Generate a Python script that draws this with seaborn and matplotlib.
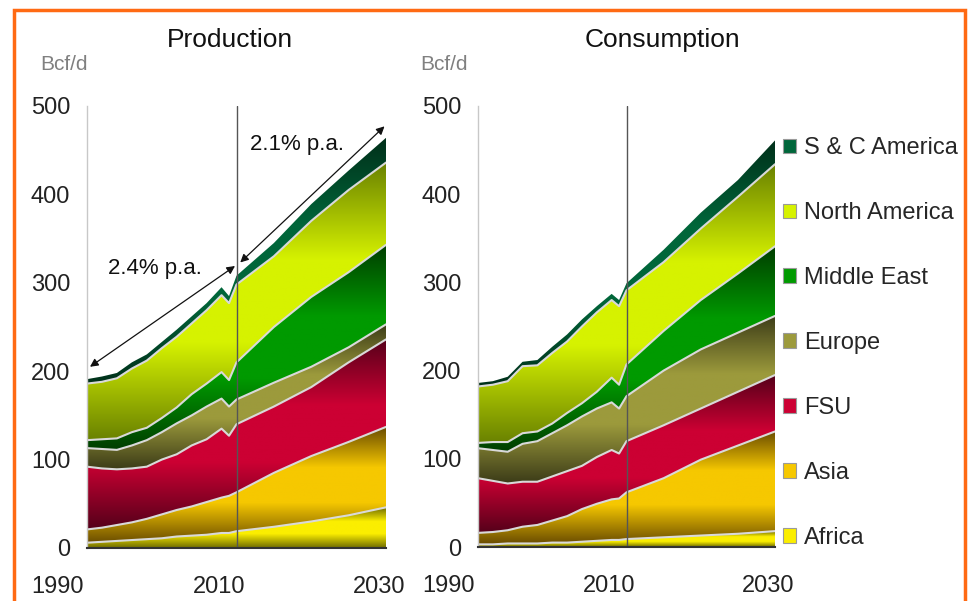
import numpy as np
import pandas as pd
import matplotlib
matplotlib.use("Agg")
import matplotlib.pyplot as plt
import matplotlib.transforms as mtransforms
from matplotlib.colors import LinearSegmentedColormap
from matplotlib.patches import Patch, Rectangle
import seaborn as sns

# data (Bcf/d)
years = [1990, 1992, 1994, 1996, 1998, 2000, 2002, 2004, 2006, 2008, 2009, 2010, 2015, 2020, 2025, 2030]
regions = ["Africa", "Asia", "FSU", "Europe", "Middle East", "North America", "S & C America"]

prod_africa = [6, 7, 8, 9, 10, 11, 13, 14, 15, 17, 17, 19, 24, 30, 37, 46]
prod_asia = [15, 16, 18, 20, 23, 27, 30, 33, 37, 40, 42, 44, 61, 74, 83, 91]
prod_fsu = [71, 67, 63, 61, 59, 62, 63, 69, 71, 78, 68, 77, 75, 78, 90, 99]
prod_europe = [21, 22, 22, 26, 30, 31, 35, 34, 37, 34, 33, 28, 27, 23, 17, 17]
prod_mideast = [9, 11, 13, 15, 14, 16, 18, 24, 26, 30, 30, 42, 63, 79, 85, 90]
prod_namerica = [64, 65, 68, 72, 76, 79, 80, 80, 83, 87, 87, 88, 80, 86, 93, 93]
prod_scamerica = [5, 6, 6, 7, 7, 7, 8, 8, 8, 9, 8, 10, 15, 19, 22, 28]

cons_africa = [3, 3, 4, 4, 4, 5, 5, 6, 7, 8, 8, 9, 11, 13, 15, 18]
cons_asia = [13, 14, 15, 19, 21, 25, 30, 37, 42, 46, 47, 53, 67, 86, 100, 113]
cons_fsu = [62, 58, 53, 51, 49, 50, 51, 49, 53, 56, 51, 58, 60, 58, 61, 64]
cons_europe = [34, 35, 36, 43, 46, 49, 52, 56, 55, 54, 51, 51, 62, 67, 67, 67]
cons_mideast = [6, 9, 11, 12, 11, 11, 14, 15, 19, 28, 27, 36, 45, 56, 67, 79]
cons_namerica = [64, 65, 69, 76, 75, 80, 81, 87, 90, 88, 89, 84, 78, 81, 87, 93]
cons_scamerica = [4, 4, 5, 5, 6, 7, 8, 8, 7, 7, 7, 8, 14, 18, 19, 27]

# gradient colours per region: (dark edge, bright centre)
dark_cols = ["#6e6a00", "#6a4c00", "#55001a", "#3c3c18", "#003d00", "#6a8200", "#00301a"]
bright_cols = ["#fbee00", "#f6c800", "#cc0033", "#9c9a3c", "#009a00", "#d6f200", "#00663a"]

x_ticks = [1990, 2010, 2030]
y_ticks = [0, 100, 200, 300, 400, 500]


def draw_panel(ax, series):
    x = np.array(years, dtype=float)
    vals = np.array(series, dtype=float)
    tops = np.cumsum(vals, axis=0)
    bottoms = tops - vals
    for i in range(len(regions)):
        lo, hi = bottoms[i], tops[i]
        poly = ax.fill_between(x, lo, hi, facecolor="none", edgecolor="none")
        cmap = LinearSegmentedColormap.from_list(
            "g", [(0, dark_cols[i]), (0.35, bright_cols[i]), (0.65, bright_cols[i]), (1, dark_cols[i])])
        grad = np.linspace(0, 1, 256).reshape(-1, 1)
        im = ax.imshow(grad, cmap=cmap, aspect="auto", origin="lower",
                       extent=(x[0], x[-1], lo.min(), hi.max()), zorder=1)
        im.set_clip_path(poly.get_paths()[0], transform=ax.transData)
    # boundary lines between the layers
    df = pd.DataFrame({
        "year": np.tile(x, len(regions) - 1),
        "top": tops[:-1].ravel(),
        "region": np.repeat(regions[:-1], len(x)),
    })
    sns.lineplot(data=df, x="year", y="top", units="region", estimator=None,
                 color="#d9d9d9", lw=1.5, ax=ax, zorder=2, legend=False)
    ax.plot([2010, 2010], [0, 500], color="#555555", lw=1, zorder=3)

    ax.set_xlim(1990, 2030)
    ax.set_ylim(0, 500)
    ax.set_xlabel("")
    ax.set_ylabel("")
    ax.set_xticks(x_ticks)
    ax.set_xticklabels([str(t) for t in x_ticks])
    ax.set_yticks(y_ticks)
    ax.set_yticklabels([str(t) for t in y_ticks])
    ax.tick_params(axis="y", direction="in", length=5, color="#c8c8c8", pad=12,
                   labelsize=17, labelcolor="#222222")
    ax.tick_params(axis="x", length=0, pad=20, labelsize=17, labelcolor="#222222")
    for sp in ["top", "right"]:
        ax.spines[sp].set_visible(False)
    ax.spines["left"].set_color("#c8c8c8")
    ax.spines["left"].set_linewidth(1)
    ax.spines["bottom"].set_color("#333333")
    ax.spines["bottom"].set_linewidth(1.5)
    ax.spines["bottom"].set_zorder(4)
    # x labels sit a little left of their years in the original
    for lab, dx in zip(ax.get_xticklabels(), [-30, -17, -7]):
        off = mtransforms.ScaledTranslation(dx / 100, 0, ax.figure.dpi_scale_trans)
        lab.set_transform(lab.get_transform() + off)


sns.set_style("white")
plt.rcParams["font.family"] = ["Liberation Sans", "DejaVu Sans"]

fig = plt.figure(figsize=(9.75, 6.01), dpi=100)
ax1 = fig.add_axes([87 / 975, 53 / 601, 299 / 975, 442 / 601])
ax2 = fig.add_axes([478 / 975, 54 / 601, 297 / 975, 441 / 601])

draw_panel(ax1, [prod_africa, prod_asia, prod_fsu, prod_europe, prod_mideast, prod_namerica, prod_scamerica])
draw_panel(ax2, [cons_africa, cons_asia, cons_fsu, cons_europe, cons_mideast, cons_namerica, cons_scamerica])

# growth arrows on the production panel
arrow = dict(arrowstyle="<|-|>", color="#111111", lw=0.9, mutation_scale=12, shrinkA=0, shrinkB=0)
ax1.annotate("", xy=(1990.4, 205), xytext=(2009.8, 319), arrowprops=arrow, annotation_clip=False)
ax1.annotate("", xy=(2010.5, 323), xytext=(2029.8, 477), arrowprops=arrow, annotation_clip=False)
ax1.text(1999.1, 316, "2.4% p.a.", ha="center", va="center", fontsize=16, color="#111111")
ax1.text(2018.1, 456, "2.1% p.a.", ha="center", va="center", fontsize=16, color="#111111")

# titles and units
fig.text(230 / 975, 1 - 40 / 601, "Production", ha="center", va="center", fontsize=19, color="#111111")
fig.text(662 / 975, 1 - 40 / 601, "Consumption", ha="center", va="center", fontsize=19, color="#111111")
fig.text(40 / 975, 1 - 65 / 601, "Bcf/d", ha="left", va="center", fontsize=15, color="#808080")
fig.text(420 / 975, 1 - 65 / 601, "Bcf/d", ha="left", va="center", fontsize=15, color="#808080")

# legend, top region first
handles = [Patch(facecolor=bright_cols[i], edgecolor="#9a9a9a", lw=0.8) for i in range(len(regions))][::-1]
fig.legend(handles, regions[::-1], loc="upper left", bbox_to_anchor=(783 / 975, 1 - 137 / 601),
           frameon=False, fontsize=17, handlelength=0.55, handleheight=0.55, handletextpad=0.35,
           labelspacing=1.82, borderaxespad=0, borderpad=0)

# orange frame
fig.patches.append(Rectangle((14 / 975, -0.05), 951 / 975, 1.05 - 10 / 601, transform=fig.transFigure,
                             fill=False, edgecolor="#ff6a13", lw=2.5))

fig.savefig("out.png", dpi=100)
